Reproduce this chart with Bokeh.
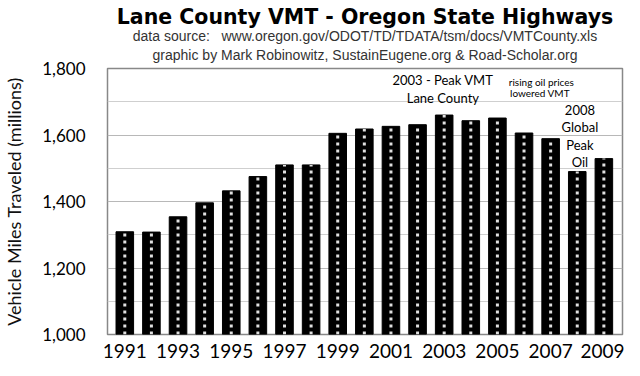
from bokeh.plotting import figure
from bokeh.models import Title, FixedTicker, NumeralTickFormatter, Range1d
from bokeh.core.properties import value
from bokeh.embed import file_html
from bokeh.resources import INLINE

years = list(range(1991, 2010))
vmt = [1309, 1308, 1354, 1396, 1432, 1475, 1510, 1510, 1605, 1618,
       1626, 1631, 1660, 1643, 1651, 1606, 1589, 1490, 1529]
tick_years = list(range(1991, 2010, 2))

ann1_text = ["2003 - Peak VMT", "Lane County"]
ann1_x = [2002.95, 2002.95]
ann1_y = [1764, 1711]
ann2_text = ["rising oil prices", "lowered VMT"]
ann2_x = [2006.65, 2006.6]
ann2_y = [1758, 1726]
ann3_text = ["2008", "Global", "Peak", "Oil"]
ann3_x = [2008.1, 2008.1, 2008.1, 2008.1]
ann3_y = [1675, 1625, 1571, 1520]

FONT = "Lato"
NB = "\u00a0"

p = figure(width=624, height=360, output_backend="svg", toolbar_location=None,
           x_range=Range1d(1990.35, 2009.7), y_range=Range1d(1000, 1800),
           min_border_left=92, min_border_right=2, min_border_top=0, min_border_bottom=0)

p.title.text = "Lane County VMT - Oregon State Highways"
p.title.align = "center"
p.title.text_font = "DejaVu Sans"
p.title.text_font_size = "20.5px"
p.title.text_font_style = "bold"
p.title.text_color = "black"
p.title.standoff = 4
p.title.offset = 0

p.add_layout(Title(text="graphic by Mark Robinowitz, SustainEugene.org & Road-Scholar.org",
                   align="center", text_font="Liberation Sans", text_font_size="14px",
                   text_font_style="normal", text_color="#333333", standoff=11), "above")
p.add_layout(Title(text="data source:" + NB * 3 + "www.oregon.gov/ODOT/TD/TDATA/tsm/docs/VMTCounty.xls",
                   align="center", text_font="Liberation Sans", text_font_size="14px",
                   text_font_style="normal", text_color="#333333", standoff=-9), "above")

p.outline_line_color = "#888888"
p.outline_line_width = 1.5

p.vbar(x=years, top=vmt, bottom=1000, width=0.66, color="black")
p.segment(x0=years, y0=[1000] * len(years), x1=years, y1=vmt,
          line_color="#e0e0e0", line_width=3, line_dash="3 4")

p.text(x=ann1_x, y=ann1_y, text=ann1_text, text_font=value(FONT), text_font_size="13px",
       text_align="center", text_baseline="middle", text_color="black")
p.text(x=ann2_x, y=ann2_y, text=ann2_text, text_font=value(FONT), text_font_size="10px",
       text_align="center", text_baseline="middle", text_color="black")
p.text(x=ann3_x, y=ann3_y, text=ann3_text, text_font=value(FONT), text_font_size="13px",
       text_align="center", text_baseline="middle", text_color="black")

p.yaxis.ticker = FixedTicker(ticks=[1000, 1200, 1400, 1600, 1800],
                             minor_ticks=[1100, 1300, 1500, 1700])
p.yaxis.formatter = NumeralTickFormatter(format="0,0")
p.yaxis.axis_label = "Vehicle Miles Traveled (millions)"
p.yaxis.axis_label_text_font = FONT
p.yaxis.axis_label_text_font_size = "18px"
p.yaxis.axis_label_text_font_style = "normal"
p.yaxis.axis_label_text_color = "#111111"
p.yaxis.axis_label_standoff = 14
p.yaxis.major_label_text_font = FONT
p.yaxis.major_label_text_font_size = "17px"
p.yaxis.major_label_text_color = "black"
p.yaxis.axis_line_color = None
p.yaxis.major_tick_line_color = None
p.yaxis.minor_tick_line_color = None
p.yaxis.major_label_standoff = 16

p.xaxis.ticker = FixedTicker(ticks=tick_years)
p.xaxis.major_label_text_font = FONT
p.xaxis.major_label_text_font_size = "19px"
p.xaxis.major_label_text_color = "black"
p.xaxis.axis_line_color = None
p.xaxis.major_tick_line_color = None
p.xaxis.minor_tick_line_color = None
p.xaxis.major_label_standoff = 3

p.xgrid.grid_line_color = None
p.ygrid.grid_line_color = "#b8b8b8"
p.ygrid.minor_grid_line_color = "#cfcfcf"

open("out.html", "w").write(file_html(p, INLINE))
